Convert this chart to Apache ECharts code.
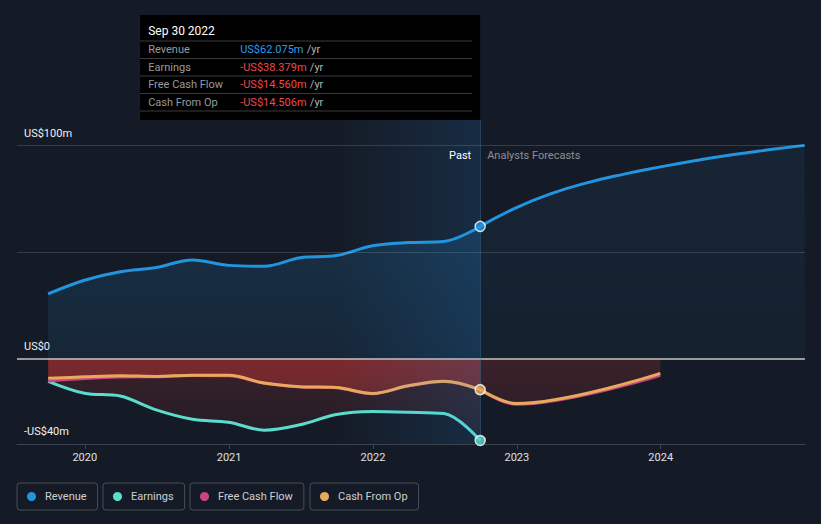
<!DOCTYPE html>
<html>
<head>
<meta charset="utf-8">
<script src="https://cdn.jsdelivr.net/npm/echarts@6/dist/echarts.min.js"></script>
<style>
html,body{margin:0;padding:0;background:#151b26;}
#c{width:821px;height:524px;}
</style>
</head>
<body>
<div id="c"></div>
<script>
// ---- data (US$ m) ----
const pastDates = ['2019-09-30','2019-12-31','2020-03-31','2020-06-30','2020-09-30','2020-12-31','2021-03-31','2021-06-30','2021-09-30','2021-12-31','2022-03-31','2022-06-30','2022-09-30'];
const revenuePast  = [30.4, 36.8, 40.8, 42.8, 46.3, 43.8, 43.4, 47.4, 48.4, 53.0, 54.5, 55.0, 62.075];
const earningsPast = [-10.6, -16.2, -17.5, -24.0, -28.4, -29.8, -33.5, -31.0, -26.2, -24.8, -25.1, -25.7, -38.379];
const fcfPast      = [-10.4, -9.3, -8.6, -8.4, -7.9, -8.0, -11.5, -13.2, -13.6, -16.4, -12.8, -10.7, -14.560];
const cfoPast      = [-9.2, -8.5, -8.0, -8.3, -7.7, -7.8, -11.4, -13.1, -13.5, -16.3, -12.7, -10.6, -14.506];
const revForecastDates = ['2022-12-31','2023-03-31','2023-06-30','2023-09-30','2023-12-31','2024-03-31','2024-06-30','2024-09-30','2024-12-31'];
const revenueForecast  = [70.9, 77.6, 82.6, 86.6, 90.0, 93.0, 95.7, 98.0, 100.1];
const cashForecastDates = ['2022-12-31','2023-12-31'];
const fcfForecast = [-21.4, -7.8];
const cfoForecast = [-21.0, -6.9];
const yTicks = [100, 0, -40];
const yGrid = [100, 50];
const xTicks = ['2020','2021','2022','2023','2024'];
const highlightStart = '2021-09-30';
const reportDate = '2022-09-30';
const axisStart = '2019-07-13';
const axisEnd = '2025-01-01';

// ---- helpers ----
const ts = s => { const p = s.split('-').map(Number); return new Date(p[0], p[1]-1, p[2]).getTime(); };
const zip = (ds, vs) => ds.map((d, i) => [ts(d), vs[i]]);
const last = a => a[a.length - 1];
const fmt = v => (v < 0 ? '-' : '') + 'US$' + Math.abs(v).toFixed(3) + 'm';
const vgrad = (c, a0, a1) => ({type:'linear', x:0, y:0, x2:0, y2:1, colorStops:[{offset:0, color:'rgba(' + c + ',' + a0 + ')'}, {offset:1, color:'rgba(' + c + ',' + a1 + ')'}]});

const C = {rev:'#2394df', earn:'#5cdccf', fcf:'#c8457f', cfo:'#e9a95c'};
const RED = '229,57,53', BLUE = '35,148,223';

const chart = echarts.init(document.getElementById('c'), null, {renderer:'svg'});

const legendCommon = {
  top: 483, icon:'circle', itemWidth:9, itemHeight:9, itemGap:0,
  padding:[8, 11, 8, 10], borderColor:'rgba(255,255,255,0.22)', borderWidth:1, borderRadius:3,
  selectedMode:false, itemStyle:{borderWidth:0},
  textStyle:{color:'#cfcfcf', fontSize:11, fontFamily:'Roboto, sans-serif', padding:[0,0,0,4]}
};

const lineBase = {type:'line', smooth:0.35, symbol:'none', z:2, emphasis:{disabled:true}};
const xTickVals = xTicks.map(y => ts(y + '-01-01'));

const option = {
  backgroundColor:'#151b26',
  animation:false,
  textStyle:{fontFamily:'Roboto, sans-serif'},
  grid:{left:17, right:16, top:120, bottom:80},
  legend:[
    Object.assign({data:['Revenue'], left:17}, legendCommon),
    Object.assign({data:['Earnings'], left:103}, legendCommon),
    Object.assign({data:['Free Cash Flow'], left:190}, legendCommon),
    Object.assign({data:['Cash From Op'], left:310}, legendCommon)
  ],
  xAxis:{
    type:'value', min: ts(axisStart), max: ts(axisEnd), scale:true,
    axisLine:{onZero:false, lineStyle:{color:'#3b4350', width:1}},
    axisTick:{customValues: xTickVals, length:5, lineStyle:{color:'#3b4350'}},
    axisLabel:{customValues: xTickVals, formatter: v => String(new Date(v).getFullYear()), color:'#e0e0e0', fontSize:11, margin:8},
    splitLine:{show:false}
  },
  yAxis:{
    type:'value', min:-40, max:112,
    splitLine:{show:false}, axisLine:{show:false}, axisTick:{show:false},
    axisLabel:{customValues: yTicks, inside:true, verticalAlign:'bottom', margin:7, padding:[0,0,7,0], color:'#f0f0f0', fontSize:11,
      formatter: v => v === 0 ? 'US$0' : (v < 0 ? '-' : '') + 'US$' + Math.abs(v) + 'm'}
  },
  series:[
    Object.assign({}, lineBase, {name:'Revenue', data: zip(pastDates, revenuePast), color:C.rev,
      lineStyle:{width:3, color:C.rev}, areaStyle:{color: vgrad(BLUE, 0.24, 0.13)}}),
    Object.assign({}, lineBase, {name:'Revenue', smooth:0.5, data: [[ts(reportDate), last(revenuePast)]].concat(zip(revForecastDates, revenueForecast)), color:C.rev,
      lineStyle:{width:3, color:C.rev}, areaStyle:{color: vgrad(BLUE, 0.12, 0.06)}}),
    Object.assign({}, lineBase, {name:'Earnings', data: zip(pastDates, earningsPast), color:C.earn,
      lineStyle:{width:3, color:C.earn}, areaStyle:{color: vgrad(RED, 0.26, 0.08)}}),
    Object.assign({}, lineBase, {name:'Free Cash Flow', data: zip(pastDates, fcfPast), color:C.fcf,
      lineStyle:{width:3, color:C.fcf}, areaStyle:{color: vgrad(RED, 0.25, 0.2)}}),
    Object.assign({}, lineBase, {name:'Free Cash Flow', data: [[ts(reportDate), last(fcfPast)]].concat(zip(cashForecastDates, fcfForecast)), color:C.fcf,
      lineStyle:{width:3, color:C.fcf}, areaStyle:{color: vgrad(RED, 0.14, 0.09)}}),
    Object.assign({}, lineBase, {name:'Cash From Op', data: zip(pastDates, cfoPast), color:C.cfo,
      lineStyle:{width:3, color:C.cfo}, areaStyle:{color: vgrad(RED, 0.35, 0.3)}}),
    Object.assign({}, lineBase, {name:'Cash From Op', data: [[ts(reportDate), last(cfoPast)]].concat(zip(cashForecastDates, cfoForecast)), color:C.cfo,
      lineStyle:{width:3, color:C.cfo}, areaStyle:{color: vgrad(RED, 0.14, 0.09)}}),
    {
      name:'grid', type:'line', data:[], z:3, silent:true,
      markLine:{z:3, silent:true, symbol:'none', label:{show:false},
        data: yGrid.map(v => ({yAxis:v, lineStyle:{color:'rgba(255,255,255,0.14)', width:1, type:'solid'}}))
          .concat([{yAxis:0, lineStyle:{color:'#c4c4c4', width:1.5, type:'solid'}}])}
    },
    {
      name:'band', type:'line', data:[], z:5, silent:true,
      markArea:{z:5, silent:true, data:[
        [{xAxis: ts(highlightStart), itemStyle:{color:{type:'linear', x:0, y:0, x2:1, y2:0, colorStops:[{offset:0, color:'rgba(33,150,243,0)'}, {offset:1, color:'rgba(33,150,243,0.14)'}]}},
          label:{show:true, position:'insideTopRight', distance:0, padding:[30,9,0,0], color:'#ffffff', fontSize:11, formatter:'Past'}},
         {xAxis: ts(reportDate)}],
        [{xAxis: ts(reportDate), itemStyle:{color:'rgba(0,0,0,0)'},
          label:{show:true, position:'insideTopLeft', distance:0, padding:[30,0,0,7], color:'#8c9097', fontSize:11, formatter:'Analysts Forecasts'}},
         {xAxis: ts(axisEnd)}]
      ]},
      markLine:{z:5, silent:true, symbol:'none', label:{show:false},
        data:[{xAxis: ts(reportDate), lineStyle:{color:'rgba(60,120,170,0.4)', width:1, type:'solid'}}]}
    },
    {
      name:'markers', type:'scatter', z:10, silent:true, symbolSize:10,
      itemStyle:{borderColor:'#ffffff', borderWidth:1.5},
      data:[
        {value:[ts(reportDate), last(revenuePast)], itemStyle:{color:C.rev}},
        {value:[ts(reportDate), last(earningsPast)], itemStyle:{color:C.earn}},
        {value:[ts(reportDate), last(cfoPast)], itemStyle:{color:C.cfo}}
      ]
    }
  ]
};
chart.setOption(option);

// ---- tooltip-like info box anchored to the report date line ----
const months = ['Jan','Feb','Mar','Apr','May','Jun','Jul','Aug','Sep','Oct','Nov','Dec'];
const rd = new Date(ts(reportDate));
const title = months[rd.getMonth()] + ' ' + rd.getDate() + ' ' + rd.getFullYear();
const rows = [['Revenue', last(revenuePast)], ['Earnings', last(earningsPast)], ['Free Cash Flow', last(fcfPast)], ['Cash From Op', last(cfoPast)]];
const xRight = chart.convertToPixel({xAxisIndex:0}, ts(reportDate));
const yTop = chart.convertToPixel({yAxisIndex:0}, 112);
const boxW = 340, boxTop = 15, boxH = yTop - boxTop;
const children = [
  {type:'rect', shape:{x:0, y:0, width:boxW, height:boxH}, style:{fill:'#000000'}},
  {type:'text', x:8, y:16, style:{text:title, fill:'#ffffff', fontSize:12, fontWeight:'normal', fontFamily:'Roboto, sans-serif', verticalAlign:'middle'}}
];
const lineYs = [26, 43.5, 61, 78.5, 96];
lineYs.forEach(y => children.push({type:'line', shape:{x1:0, y1:y, x2:332, y2:y}, style:{stroke:'#3a3a3a', lineWidth:1}}));
rows.forEach((r, i) => {
  const y = 34.5 + i * 17.5;
  children.push({type:'text', x:8, y:y, style:{text:r[0], fill:'#9a9a9a', fontSize:11, fontFamily:'Roboto, sans-serif', verticalAlign:'middle'}});
  children.push({type:'text', x:100, y:y, style:{
    text:'{v|' + fmt(r[1]) + '} {u|/yr}', verticalAlign:'middle',
    rich:{v:{fill: r[1] < 0 ? '#f04848' : '#2a9df0', fontSize:11, fontFamily:'Roboto, sans-serif'},
          u:{fill:'#b4b4b4', fontSize:11, fontFamily:'Roboto, sans-serif'}}}});
});
chart.setOption({graphic:[{type:'group', x: xRight - boxW, y: boxTop, children: children}]});
</script>
</body>
</html>
